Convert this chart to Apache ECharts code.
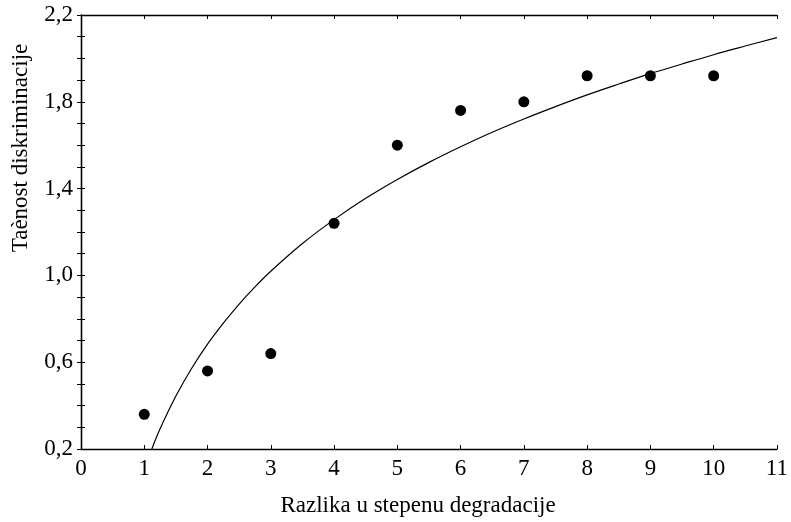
<!DOCTYPE html>
<html>
<head>
<meta charset="utf-8">
<script src="https://cdn.jsdelivr.net/npm/echarts@6/dist/echarts.min.js"></script>
<style>html,body{margin:0;padding:0;background:#fff}#c{width:791px;height:522px}</style>
</head>
<body>
<div id="c"></div>
<script>
// Observed points
const xValues = [1, 2, 3, 4, 5, 6, 7, 8, 9, 10];
const yValues = [0.36, 0.56, 0.64, 1.24, 1.60, 1.76, 1.80, 1.92, 1.92, 1.92];
// Fitted curve
const curveX = [1.12, 1.25, 1.5, 1.75, 2, 2.25, 2.5, 2.75, 3, 3.5, 4, 4.5, 5, 5.5, 6, 6.5, 7, 7.5, 8, 8.5, 9, 9.5, 10, 10.5, 11];
const curveY = [0.20, 0.293, 0.444, 0.572, 0.683, 0.780, 0.868, 0.947, 1.019, 1.147, 1.257, 1.355, 1.442, 1.521, 1.593, 1.660, 1.721, 1.778, 1.832, 1.882, 1.930, 1.974, 2.017, 2.057, 2.096];
const xTitle = 'Razlika u stepenu degradacije';
const yTitle = 'Taènost diskriminacije';

const FONT = '"Liberation Serif", "Times New Roman", serif';
const chart = echarts.init(document.getElementById('c'), null, {renderer: 'canvas'});
const axisLine = {show: true, lineStyle: {color: '#000', width: 1.3}};
const tick = {show: true, inside: true, length: 4, lineStyle: {color: '#000', width: 1}};
const fmtY = v => {
  const k = Math.round((v - 0.2) * 10);
  return (k % 4 === 0) ? v.toFixed(1).replace('.', ',') : '';
};
chart.setOption({
  animation: false,
  backgroundColor: '#fff',
  grid: {left: 81, right: 11, top: 15, bottom: 73, containLabel: false},
  xAxis: [{
    type: 'value', min: 0, max: 11, interval: 1, position: 'bottom',
    axisLine: axisLine, axisTick: tick,
    axisLabel: {color: '#000', fontFamily: FONT, fontSize: 23, margin: 8},
    splitLine: {show: false}
  }, {
    type: 'value', min: 0, max: 11, interval: 1, position: 'top',
    axisLine: axisLine, axisTick: tick,
    axisLabel: {show: false}, splitLine: {show: false}
  }],
  yAxis: [{
    type: 'value', min: 0.2, max: 2.2, interval: 0.1, position: 'left',
    axisLine: axisLine, axisTick: tick,
    axisLabel: {color: '#000', fontFamily: FONT, fontSize: 23, margin: 8, formatter: fmtY},
    splitLine: {show: false}
  }, {
    type: 'value', min: 0.2, max: 2.2, interval: 0.1, position: 'right',
    axisLine: axisLine, axisTick: tick,
    axisLabel: {show: false}, splitLine: {show: false}
  }],
  graphic: [{
    type: 'text', x: 418, y: 506,
    style: {text: xTitle, fill: '#000', font: '23px ' + FONT, textAlign: 'center', textVerticalAlign: 'middle'}
  }, {
    type: 'text', x: 21, y: 148, rotation: Math.PI / 2,
    style: {text: yTitle, fill: '#000', font: '23px ' + FONT, textAlign: 'center', textVerticalAlign: 'middle'}
  }],
  series: [{
    type: 'line',
    data: curveX.map((x, i) => [x, curveY[i]]),
    smooth: 0.4, showSymbol: false, symbol: 'none',
    lineStyle: {color: '#000', width: 1.2},
    clip: true, z: 2
  }, {
    type: 'scatter',
    data: xValues.map((x, i) => [x, yValues[i]]),
    symbol: 'circle', symbolSize: 11,
    itemStyle: {color: '#000', opacity: 1}, z: 3
  }]
});
</script>
</body>
</html>
